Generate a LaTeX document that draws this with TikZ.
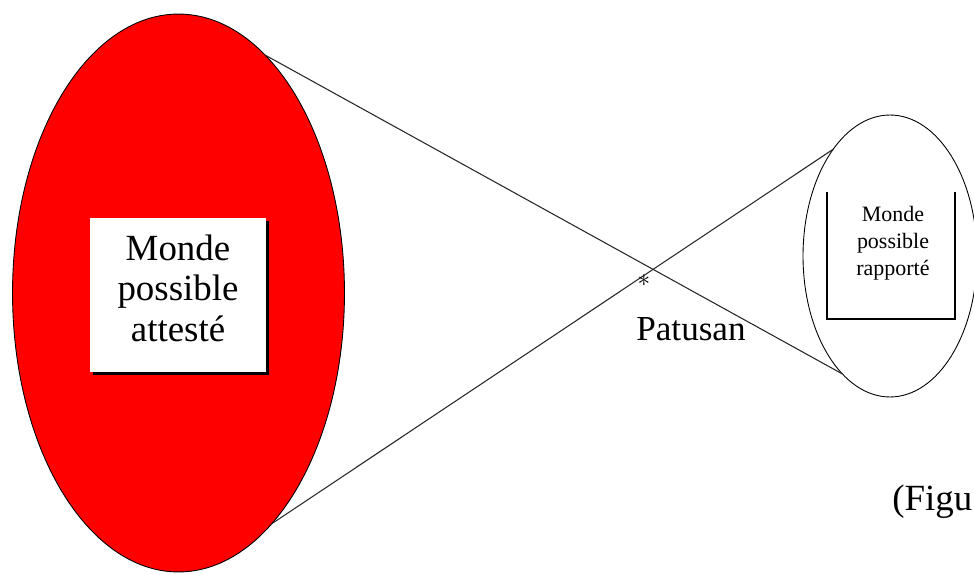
\documentclass[tikz,border=0pt]{standalone}
\usepackage{fontspec}
\setmainfont{Liberation Serif}
\usetikzlibrary{shapes.geometric, shadows}

\begin{document}
\begin{tikzpicture}[x=0.02cm, y=-0.02cm,
        world/.style={ellipse, draw=black, line width=0.5pt, inner sep=0pt, outer sep=0pt},
        framebox/.style={rectangle, inner sep=0pt, outer sep=0pt},
        ray/.style={black!85, line width=0.6pt}]

      \useasboundingbox (0,0) rectangle (974,574);

      % 1. The two possible worlds
      \node [world, fill=red, minimum width=6.64cm, minimum height=11.16cm] (attested) at (178.5,293) {};
      \node [world, minimum width=3.48cm, minimum height=5.64cm] (reported) at (890,256) {};

      % 2. Boxes inside the worlds
      \node [framebox, fill=white, minimum width=3.52cm, minimum height=3.08cm,
             general shadow={fill=black, shadow xshift=0.06cm, shadow yshift=-0.06cm}] (attbox) at (178,295) {};
      \node [align=center, font=\fontsize{21}{23}\selectfont] (atttext) at (178,288) {Monde\\possible\\attesté};

      \node [framebox, minimum width=2.56cm, minimum height=2.54cm] (repbox) at (891,255.5) {};
      \draw [line width=1pt] (repbox.north west) -- (repbox.south west) -- (repbox.south east) -- (repbox.north east);
      \node [align=center, font=\fontsize{12.5}{15.4}\selectfont] (reptext) at (893,243) {Monde\\possible\\rapporté};

      % 3. Crossing rays
      \draw [ray] (attested.70.7) -- (reported.248.5);
      \draw [ray] (attested.-68) -- (reported.118.7);

      % 4. Labels
      \node [font=\fontsize{14}{16}\selectfont, inner sep=0pt] (cross) at (644,281) {$\ast$};
      \node [font=\fontsize{20}{24}\selectfont, anchor=base] (patusan) at (691,340) {Patusan};
      \node [font=\fontsize{21}{24}\selectfont, anchor=base west, inner sep=0pt] (figure) at (892,510) {(Figu};
    \end{tikzpicture}
\end{document}
